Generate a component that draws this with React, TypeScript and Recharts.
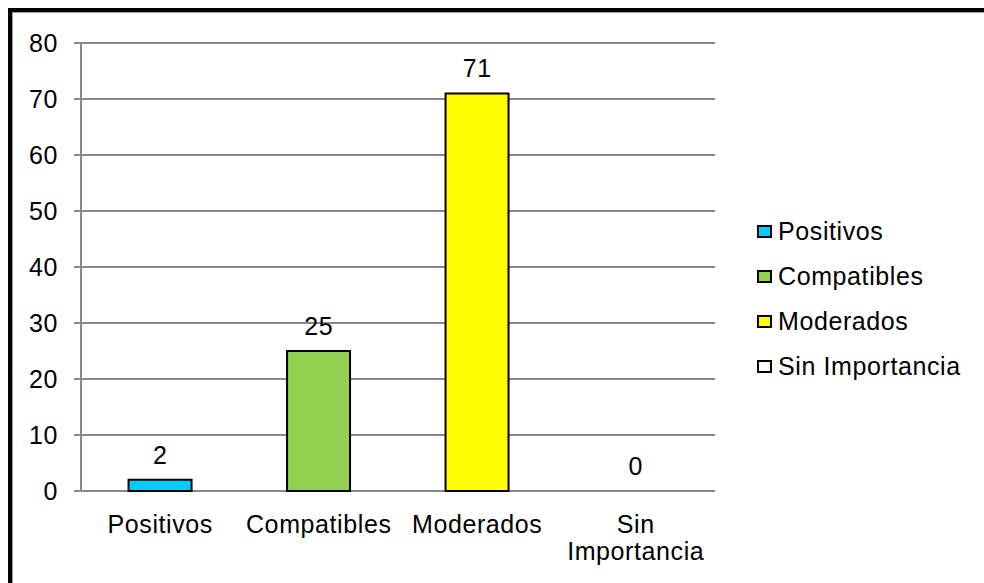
import React from 'react';
import { ComposedChart, Bar, Line, XAxis, YAxis, CartesianGrid, Cell, LabelList, Legend } from 'recharts';

const categories = ['Positivos', 'Compatibles', 'Moderados', 'Sin Importancia'];
const values = [2, 25, 71, 0];
const colors = ['#00CCFF', '#92D050', '#FFFF00', '#FFFFFF'];
const yTicks = [0, 10, 20, 30, 40, 50, 60, 70, 80];
const boundaryTicks = [0, 1, 2, 3, 4];

const data = categories.map((name, i) => ({ name, value: values[i] }));

const FONT = '"Liberation Sans", Arial, sans-serif';
const GRAY = '#898989';
const SPACING = 0.6;

// long labels wrap onto one word per line, like the original
function CategoryTick({ x, y, payload }: any) {
  const label = String(payload.value);
  const lines = label.length > 12 ? label.split(' ') : [label];
  return (
    <text
      x={x}
      y={y}
      textAnchor="middle"
      fontSize={25}
      fontFamily={FONT}
      letterSpacing={SPACING}
      fill="#000"
    >
      {lines.map((l, i) => (
        <tspan key={i} x={x} dy={i === 0 ? '0.71em' : 27}>
          {l}
        </tspan>
      ))}
    </text>
  );
}

function renderLegend() {
  return (
    <div
      style={{
        fontFamily: FONT,
        fontSize: 25,
        letterSpacing: SPACING,
        color: '#000',
        whiteSpace: 'nowrap',
      }}
    >
      {categories.map((c, i) => (
        <div key={c} style={{ display: 'flex', alignItems: 'center', height: 45 }}>
          <span
            style={{
              display: 'inline-block',
              width: 11,
              height: 9,
              border: '2px solid #000',
              background: colors[i],
              marginRight: 6,
            }}
          />
          <span>{c}</span>
        </div>
      ))}
    </div>
  );
}

export default function App() {
  return (
    <div
      style={{
        position: 'fixed',
        left: 8,
        top: 8,
        width: 1000,
        height: 600,
        border: '4px solid #000',
        boxSizing: 'border-box',
        background: '#fff',
      }}
    >
      <div style={{ position: 'absolute', inset: 0, border: '1px solid #a0a0a0' }}>
        <div style={{ position: 'absolute', left: 0, top: 0 }}>
          <ComposedChart
            width={971}
            height={570}
            data={data}
            margin={{ top: 30, right: 269, bottom: 0, left: 0 }}
            barCategoryGap="30%"
          >
            <CartesianGrid vertical={false} stroke={GRAY} strokeWidth={2} />
            <XAxis
              xAxisId="edge"
              type="number"
              domain={[0, 4]}
              ticks={boundaryTicks}
              allowDataOverflow
              tick={false}
              tickSize={8}
              height={0}
              stroke={GRAY}
              strokeWidth={2}
            />
            <XAxis
              dataKey="name"
              height={92}
              axisLine={false}
              tickLine={false}
              tickSize={8}
              tickMargin={16}
              interval={0}
              tick={<CategoryTick />}
            />
            <YAxis
              width={68}
              domain={[0, 80]}
              ticks={yTicks}
              tickSize={7}
              tickMargin={16}
              stroke={GRAY}
              strokeWidth={2}
              tick={{ fontSize: 25, fontFamily: FONT, fill: '#000', letterSpacing: SPACING }}
            />
            <Legend
              layout="vertical"
              align="center"
              verticalAlign="middle"
              content={renderLegend}
              wrapperStyle={{ left: 744, top: 196, width: 230 }}
            />
            <Bar dataKey="value" stroke="#000" strokeWidth={2} isAnimationActive={false}>
              {data.map((d, i) => (
                <Cell key={d.name} fill={colors[i]} />
              ))}
            </Bar>
            {/* invisible series carrying the value labels, so the 0 bar gets one too */}
            <Line
              dataKey="value"
              stroke="none"
              dot={false}
              activeDot={false}
              legendType="none"
              isAnimationActive={false}
            >
              <LabelList
                dataKey="value"
                position="top"
                offset={16}
                fill="#000"
                fontSize={25}
                fontFamily={FONT}
                letterSpacing={SPACING}
              />
            </Line>
          </ComposedChart>
        </div>
      </div>
    </div>
  );
}
